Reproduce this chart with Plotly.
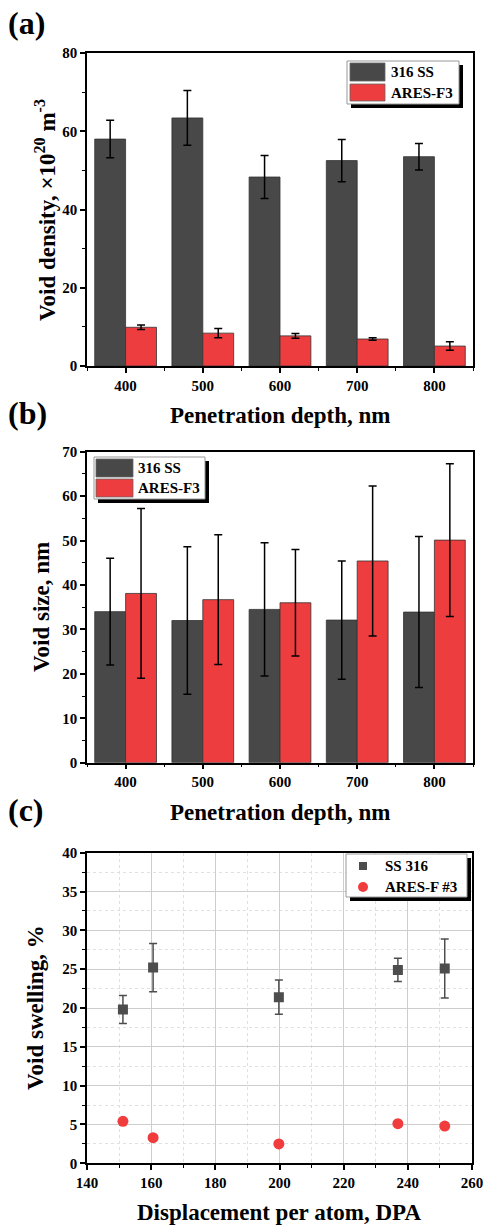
import plotly.graph_objects as go

# ---------------- data ----------------
depth = [400, 500, 600, 700, 800]

dens_ss = [58.0, 63.4, 48.3, 52.5, 53.5]
dens_ss_err = [4.8, 7.0, 5.5, 5.4, 3.4]
dens_ares = [9.9, 8.4, 7.7, 6.9, 5.1]
dens_ares_err = [0.6, 1.2, 0.6, 0.3, 1.1]

size_ss = [34.0, 32.0, 34.5, 32.1, 33.9]
size_ss_err = [12.0, 16.6, 15.0, 13.3, 17.0]
size_ares = [38.1, 36.7, 36.0, 45.4, 50.1]
size_ares_err = [19.1, 14.6, 12.0, 16.9, 17.2]

dpa = [151.2, 160.6, 199.8, 236.9, 251.5]
swell_ss = [19.8, 25.2, 21.4, 24.9, 25.1]
swell_ss_err = [1.8, 3.1, 2.2, 1.5, 3.8]
swell_ares = [5.4, 3.3, 2.5, 5.1, 4.8]

names_ab = ["316 SS", "ARES-F3"]
names_c = ["SS 316", "ARES-F #3"]

DARK = "#484848"
RED = "#ee3d3f"
FONT = "Liberation Serif"

W, H = 486, 1225


def px(x):
    return x / W


def py(y):
    return 1 - y / H


fig = go.Figure()

err_style = dict(type="data", color="black", thickness=1.5, width=4, visible=True)

# ---- panel (a) ----
fig.add_trace(go.Bar(x=depth, y=dens_ss, name=names_ab[0], marker=dict(color=DARK, line=dict(color="#333333", width=0.8)),
                     error_y=dict(array=dens_ss_err, **err_style), xaxis="x", yaxis="y", offsetgroup="1", showlegend=False))
fig.add_trace(go.Bar(x=depth, y=dens_ares, name=names_ab[1], marker=dict(color=RED, line=dict(color="#333333", width=0.8)),
                     error_y=dict(array=dens_ares_err, **err_style), xaxis="x", yaxis="y", offsetgroup="2", showlegend=False))
# ---- panel (b) ----
fig.add_trace(go.Bar(x=depth, y=size_ss, name=names_ab[0], marker=dict(color=DARK, line=dict(color="#333333", width=0.8)),
                     error_y=dict(array=size_ss_err, **err_style), xaxis="x2", yaxis="y2", offsetgroup="1", showlegend=False))
fig.add_trace(go.Bar(x=depth, y=size_ares, name=names_ab[1], marker=dict(color=RED, line=dict(color="#333333", width=0.8)),
                     error_y=dict(array=size_ares_err, **err_style), xaxis="x2", yaxis="y2", offsetgroup="2", showlegend=False))
# ---- panel (c) ----
fig.add_trace(go.Scatter(x=dpa, y=swell_ss, mode="markers", name=names_c[0],
                         marker=dict(symbol="square", size=10, color="#4d4d4d"),
                         error_y=dict(type="data", array=swell_ss_err, color="#4d4d4d", thickness=1.5, width=4),
                         xaxis="x3", yaxis="y3", showlegend=False))
fig.add_trace(go.Scatter(x=dpa, y=swell_ares, mode="markers", name=names_c[1],
                         marker=dict(symbol="circle", size=11, color="#f03c3c"),
                         xaxis="x3", yaxis="y3", showlegend=False))

tickfont = dict(family=FONT, size=15, color="black", weight="bold")
common = dict(showline=True, linecolor="black", linewidth=1.5, mirror=True, ticks="outside",
              ticklen=5, tickwidth=1.5, tickcolor="black", tickfont=tickfont, zeroline=False,
              automargin=False)
minor_base = dict(ticks="outside", ticklen=3, tickwidth=1.2, tickcolor="black")

fig.update_layout(
    width=W, height=H, autosize=False,
    margin=dict(l=0, r=0, t=0, b=0, pad=0, autoexpand=False),
    paper_bgcolor="white", plot_bgcolor="white",
    barmode="group", bargap=0.2, bargroupgap=0,
    font=dict(family=FONT, color="black"),
    showlegend=False,
    xaxis=dict(domain=[px(87), px(473)], range=[350, 850], dtick=100, tick0=0, anchor="y", showgrid=False,
               minor=dict(dtick=50, **minor_base), **common),
    yaxis=dict(domain=[py(366), py(53)], range=[0, 80], dtick=20, anchor="x", showgrid=False,
               minor=dict(dtick=10, **minor_base), **common),
    xaxis2=dict(domain=[px(87), px(473)], range=[350, 850], dtick=100, tick0=0, anchor="y2", showgrid=False,
                minor=dict(dtick=50, **minor_base), **common),
    yaxis2=dict(domain=[py(762.7), py(451.7)], range=[0, 70], dtick=10, anchor="x2", showgrid=False,
                minor=dict(dtick=5, **minor_base), **common),
    xaxis3=dict(domain=[px(87), px(472)], range=[140, 260], dtick=20, anchor="y3", showgrid=True,
                gridcolor="#cdcdcd", gridwidth=1.2,
                minor=dict(dtick=10, showgrid=True, gridcolor="#e0e0e0", griddash="dot", gridwidth=1, **minor_base),
                **common),
    yaxis3=dict(domain=[py(1163.3), py(852.7)], range=[0, 40], dtick=5, anchor="x3", showgrid=True,
                gridcolor="#cdcdcd", gridwidth=1.2,
                minor=dict(dtick=2.5, showgrid=True, gridcolor="#e0e0e0", griddash="dot", gridwidth=1, **minor_base),
                **common),
)

annots = []
shapes = []


def label(text, x, y, size, angle=0, xanchor="center", yanchor="middle"):
    annots.append(dict(text=text, x=px(x), y=py(y), xref="paper", yref="paper", showarrow=False,
                       textangle=angle, xanchor=xanchor, yanchor=yanchor,
                       font=dict(family=FONT, size=size, color="black")))


# panel letters
label("<b>(a)</b>", 6, 23, 32, xanchor="left")
label("<b>(b)</b>", 6, 413, 32, xanchor="left")
label("<b>(c)</b>", 6, 810, 32, xanchor="left")

# axis titles
label("<b>Penetration depth, nm</b>", 280, 415, 23)
label("<b>Penetration depth, nm</b>", 280, 812, 23)
label("<b>Displacement per atom, DPA</b>", 279, 1212, 23)
label("<b>Void density, ×10<sup>20</sup> m<sup>-3</sup></b>", 45, 210, 23, angle=-90)
label("<b>Void size, nm</b>", 42, 607, 23, angle=-90)
label("<b>Void swelling, %</b>", 35, 1008, 23, angle=-90)


def legend_box(x0, y0, x1, y1, shadow=4):
    shapes.append(dict(type="rect", xref="paper", yref="paper", x0=px(x0 + shadow), x1=px(x1 + shadow),
                       y0=py(y1 + shadow), y1=py(y0 + shadow), fillcolor="black", line=dict(width=0)))
    shapes.append(dict(type="rect", xref="paper", yref="paper", x0=px(x0), x1=px(x1),
                       y0=py(y1), y1=py(y0), fillcolor="white", line=dict(color="#999999", width=1)))


def swatch(x0, y0, x1, y1, color):
    shapes.append(dict(type="rect", xref="paper", yref="paper", x0=px(x0), x1=px(x1),
                       y0=py(y1), y1=py(y0), fillcolor=color, line=dict(color="#666666", width=0.8)))


# legend (a)
legend_box(347, 61, 459, 104)
swatch(350, 63, 385, 81, DARK)
swatch(350, 84, 385, 101, RED)
label("<b>%s</b>" % names_ab[0], 389, 72, 15, xanchor="left")
label("<b>%s</b>" % names_ab[1], 389, 93, 15, xanchor="left")

# legend (b)
legend_box(94, 457, 205, 499)
swatch(96, 459, 133, 477, DARK)
swatch(96, 479, 133, 497, RED)
label("<b>%s</b>" % names_ab[0], 136, 468, 15, xanchor="left")
label("<b>%s</b>" % names_ab[1], 136, 488, 15, xanchor="left")

# legend (c)
legend_box(346, 854, 467, 897)
shapes.append(dict(type="rect", xref="paper", yref="paper", x0=px(359), x1=px(367), y0=py(870), y1=py(862),
                   fillcolor="#4d4d4d", line=dict(width=0)))
shapes.append(dict(type="circle", xref="paper", yref="paper", x0=px(358), x1=px(368), y0=py(892), y1=py(882),
                   fillcolor="#f03c3c", line=dict(width=0)))
label("<b>%s</b>" % names_c[0], 383, 866, 15, xanchor="left")
label("<b>%s</b>" % names_c[1], 383, 887, 15, xanchor="left")

fig.update_layout(annotations=annots, shapes=shapes)

fig.write_html("out.html",
               config=dict(displayModeBar=False),
               post_script="document.body.style.margin='0px';document.body.style.padding='0px';"
                           "document.body.style.overflow='hidden';")
